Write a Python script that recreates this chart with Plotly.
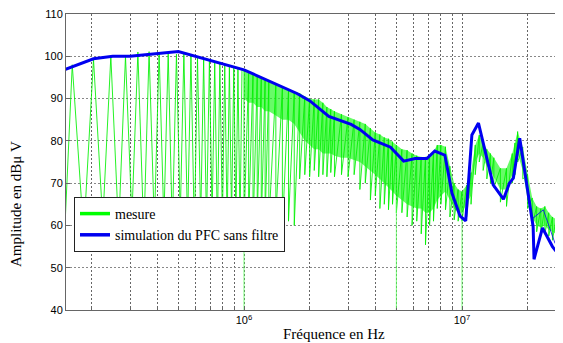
import plotly.graph_objects as go

# ---------------- data ----------------
# Simulation (blue), frequency in Hz, amplitude in dBuV
sim_freq_hz = [1.5e5, 2.04e5, 2.5e5, 3.0e5, 5.0e5, 1.0e6, 1.75e6, 2.0e6, 2.45e6, 3.1e6,
               3.4e6, 3.9e6, 4.7e6, 5.4e6, 6.1e6, 6.9e6, 7.5e6, 8.35e6, 9.0e6, 9.8e6,
               1.04e7, 1.11e7, 1.19e7, 1.39e7, 1.55e7, 1.65e7, 1.72e7, 1.84e7, 2.12e7, 2.14e7,
               2.34e7, 2.6e7, 2.7e7, 2.8e7, 2.9e7, 3.0e7]
sim_db = [96.8, 99.4, 100.0, 100.0, 101.1, 96.8, 91.2, 89.5, 85.8, 83.9,
          82.7, 80.2, 78.5, 75.2, 75.8, 75.8, 77.6, 76.6, 67.6, 62.2,
          61.1, 81.4, 84.2, 69.6, 66.2, 70.0, 71.2, 80.6, 59.7, 52.0,
          59.4, 55.0, 53.9, 54.2, 57.4, 60.0]

# Measurement (green), low-frequency harmonic spikes (kHz / dBuV)
low_freq_khz = [150, 151, 163, 184, 204, 225, 245, 266, 286, 306, 326, 347, 367, 388,
                408, 429, 449, 469, 490, 510, 530, 551, 571, 592, 612, 633, 653, 673,
                694, 714, 734, 755, 775, 796, 816, 837, 857, 877, 898, 918, 938, 959, 979]
low_db = [73.5, 60, 98.0, 58, 99.3, 61, 100.0, 59, 100.0, 62, 101.0, 58, 101.1, 60,
          101.0, 61, 100.8, 59, 100.5, 62, 100.8, 60, 100.4, 58, 99.8, 61, 99.3, 60,
          99.0, 62, 98.6, 59, 98.3, 61, 98.0, 60, 97.6, 62, 97.4, 61, 97.0, 60, 96.8]

# Measurement (green), dense part: frequency (MHz), top, dense core bottom, spike tips
dense_freq_mhz = [1.00, 1.05, 1.10, 1.15, 1.20, 1.25, 1.30, 1.40, 1.50, 1.60, 1.70, 1.80,
                  1.90, 2.00, 2.10, 2.20, 2.30, 2.40, 2.50, 2.60, 2.80, 3.00, 3.20, 3.40,
                  3.60, 3.80, 4.00, 4.20, 4.40, 4.60, 4.80, 5.00, 5.30, 5.60, 5.90, 6.20,
                  6.50, 6.80, 7.10, 7.40, 7.70, 8.00, 8.40, 8.80, 9.20, 9.60, 10.0, 10.5,
                  11.0, 11.5, 12.0, 12.5, 13.0, 13.5, 14.0, 15.0, 16.0, 17.0, 17.5, 18.0,
                  19.0, 20.0, 21.0, 22.0, 23.0, 24.0, 25.0, 26.0, 27.0, 28.0, 29.0, 30.0]
dense_top_db = [96.5, 96.0, 95.8, 95.3, 94.8, 94.5, 94.0, 93.3, 92.6, 92.0, 91.5, 91.3,
                90.5, 90.0, 89.8, 89.8, 89.0, 88.0, 87.5, 87.0, 86.3, 85.6, 85.0, 84.5,
                84.0, 83.0, 82.0, 81.5, 80.8, 80.5, 79.8, 79.0, 78.0, 77.8, 77.0, 76.5,
                76.2, 76.2, 76.5, 77.5, 79.0, 79.0, 78.6, 74.0, 70.0, 68.5, 68.0, 69.5,
                72.5, 79.0, 81.4, 79.5, 78.0, 77.0, 76.0, 73.5, 73.5, 77.0, 79.5, 82.2,
                78.5, 72.0, 66.5, 64.5, 64.0, 64.5, 63.0, 62.0, 61.5, 61.0, 61.0, 60.5]
dense_core_db = [90, 89, 89, 88, 88, 87, 87, 86, 85, 85, 84, 82,
                 80, 79, 78, 78, 77, 77, 77, 76.5, 76, 76, 75.5, 75,
                 74, 73, 72, 71, 70, 69, 68, 67, 66, 65, 64.5, 64,
                 64, 63, 63, 64, 66, 67, 68, 66, 64, 63, 63, 65,
                 67, 75, 77, 76, 74, 73, 71.5, 68.5, 68.5, 72, 75, 77,
                 73, 66, 62, 60, 59.5, 60, 59, 58.5, 58, 57.5, 57.5, 57]
dense_low_db = [60, 61, 59, 62, 60, 61, 60, 62, 59, 61, 60, 71,
                72, 71.5, 73, 71.5, 72, 71.5, 72.5, 71.5, 72, 71.5, 72, 68.5,
                70, 66, 67, 64, 65, 63.7, 65, 63, 63, 62, 60, 61,
                58, 55.4, 60, 61, 64, 65, 63.7, 62, 61.3, 61, 61, 62,
                65, 72, 75, 73, 71, 70, 69, 65.5, 64.5, 70, 72, 75,
                71, 64, 60, 58.5, 58, 58, 57.5, 56.5, 56, 56, 55.8, 56]

# Deep isolated dips of the measurement (MHz / dBuV)
deep_freq_mhz = [1.0, 5.0, 10.0]
deep_top_db = [62, 66, 62]
deep_bottom_db = [38, 38, 38]

# Thin blue trace near the end of the band
thin_freq_hz = [2.07e7, 2.36e7, 2.67e7, 2.9e7]
thin_db = [61.3, 63.7, 55.8, 58.2]

# Axis ticks
x_major_hz = [1e6, 1e7]
x_major_text = ['10<sup>6</sup>', '10<sup>7</sup>']
x_minor_hz = [2e5, 3e5, 4e5, 5e5, 6e5, 7e5, 8e5, 9e5, 2e6, 3e6, 4e6, 5e6, 6e6,
              7e6, 8e6, 9e6, 2e7]
y_ticks = [40, 50, 60, 70, 80, 90, 100, 110]

# ---------------- build traces ----------------
green_x = [f * 1e3 for f in low_freq_khz]
green_y = list(low_db)
for f, hi, lo in zip(dense_freq_mhz, dense_top_db, dense_low_db):
    green_x += [f * 1e6, f * 1e6]
    green_y += [hi, lo]

band_x = [f * 1e6 for f in dense_freq_mhz] + [f * 1e6 for f in dense_freq_mhz[::-1]]
band_y = list(dense_top_db) + list(dense_core_db[::-1])

deep_x, deep_y = [], []
for f, t, b in zip(deep_freq_mhz, deep_top_db, deep_bottom_db):
    deep_x += [f * 1e6, f * 1e6, None]
    deep_y += [t, b, None]

GREEN = '#00ff00'
BLUE = '#0000f0'

fig = go.Figure()
fig.add_trace(go.Scatter(x=band_x, y=band_y, mode='lines', fill='toself',
                         fillcolor='rgba(40,250,40,0.7)', line=dict(width=0, color=GREEN),
                         hoverinfo='skip', showlegend=False))
fig.add_trace(go.Scatter(x=green_x, y=green_y, mode='lines',
                         line=dict(color='rgba(0,240,0,0.85)', width=1), showlegend=False))
fig.add_trace(go.Scatter(x=deep_x, y=deep_y, mode='lines',
                         line=dict(color='rgba(90,255,90,0.8)', width=1), showlegend=False))
fig.add_trace(go.Scatter(x=thin_freq_hz, y=thin_db, mode='lines',
                         line=dict(color=BLUE, width=0.8), showlegend=False))
fig.add_trace(go.Scatter(x=sim_freq_hz, y=sim_db, mode='lines',
                         line=dict(color=BLUE, width=3), showlegend=False))
# legend entries
fig.add_trace(go.Scatter(x=[None], y=[None], mode='lines', name='mesure',
                         line=dict(color=GREEN, width=3.5)))
fig.add_trace(go.Scatter(x=[None], y=[None], mode='lines', name='simulation du PFC sans filtre',
                         line=dict(color=BLUE, width=3.5)))

# The page body has an 8px default margin: compensate so the plot lands where
# the reference has it (plot area 66..563 x 14..310 in window pixels).
PAGE = 8
WIN_W, WIN_H = 563, 343
W, H = WIN_W - PAGE, WIN_H - PAGE
L, R, T, B = 66 - PAGE, 0, 14 - PAGE, WIN_H - 310
pw, ph = W - L - R, H - T - B


def px_x(xw):  # window pixel -> paper x
    return (xw - PAGE - L) / pw


def px_y(yw):  # window pixel -> paper y
    return 1 - (yw - PAGE - T) / ph


fig.update_layout(
    template='none',
    width=W, height=H, autosize=False,
    margin=dict(l=L, r=R, t=T, b=B, pad=0),
    paper_bgcolor='white', plot_bgcolor='white',
    showlegend=True,
    legend=dict(x=px_x(74), y=px_y(197), xanchor='left', yanchor='top',
                bgcolor='white', bordercolor='#222', borderwidth=1,
                font=dict(family='Liberation Serif', size=14, color='black'),
                itemwidth=30, tracegroupgap=0),
    annotations=[
        dict(text='Fréquence en Hz', x=px_x(334), y=px_y(334),
             xref='paper', yref='paper', xanchor='center', yanchor='middle',
             showarrow=False, font=dict(family='Liberation Serif', size=15, color='black')),
        dict(text='Amplitude en dBμ V', x=px_x(16), y=px_y(204),
             xref='paper', yref='paper', xanchor='center', yanchor='middle',
             textangle=-90, showarrow=False,
             font=dict(family='Liberation Serif', size=15, color='black')),
    ],
)

fig.update_xaxes(type='log', range=[5.1835, 7.4633], automargin=False,
                 tickmode='array', tickvals=x_major_hz, ticktext=x_major_text,
                 showgrid=True, gridcolor='#666', griddash='2px,2px', gridwidth=1,
                 minor=dict(tickmode='array', tickvals=x_minor_hz, showgrid=True,
                            gridcolor='#666', griddash='2px,2px', gridwidth=1,
                            ticks='inside', ticklen=2, tickcolor='#666'),
                 showline=True, linecolor='#666', linewidth=1, mirror=True,
                 ticks='inside', ticklen=4, tickcolor='#666',
                 tickfont=dict(family='Liberation Sans', size=11, color='black'),
                 ticklabeloverflow='allow', zeroline=False)
fig.update_yaxes(range=[40, 110], tickvals=y_ticks, automargin=False,
                 showgrid=True, gridcolor='#888', griddash='2px,2px', gridwidth=1,
                 showline=True, linecolor='#666', linewidth=1, mirror=False,
                 ticks='inside', ticklen=4, tickcolor='#666',
                 tickfont=dict(family='Liberation Sans', size=11, color='black'),
                 ticklabeloverflow='allow', zeroline=False)

fig.write_html('out.html')
